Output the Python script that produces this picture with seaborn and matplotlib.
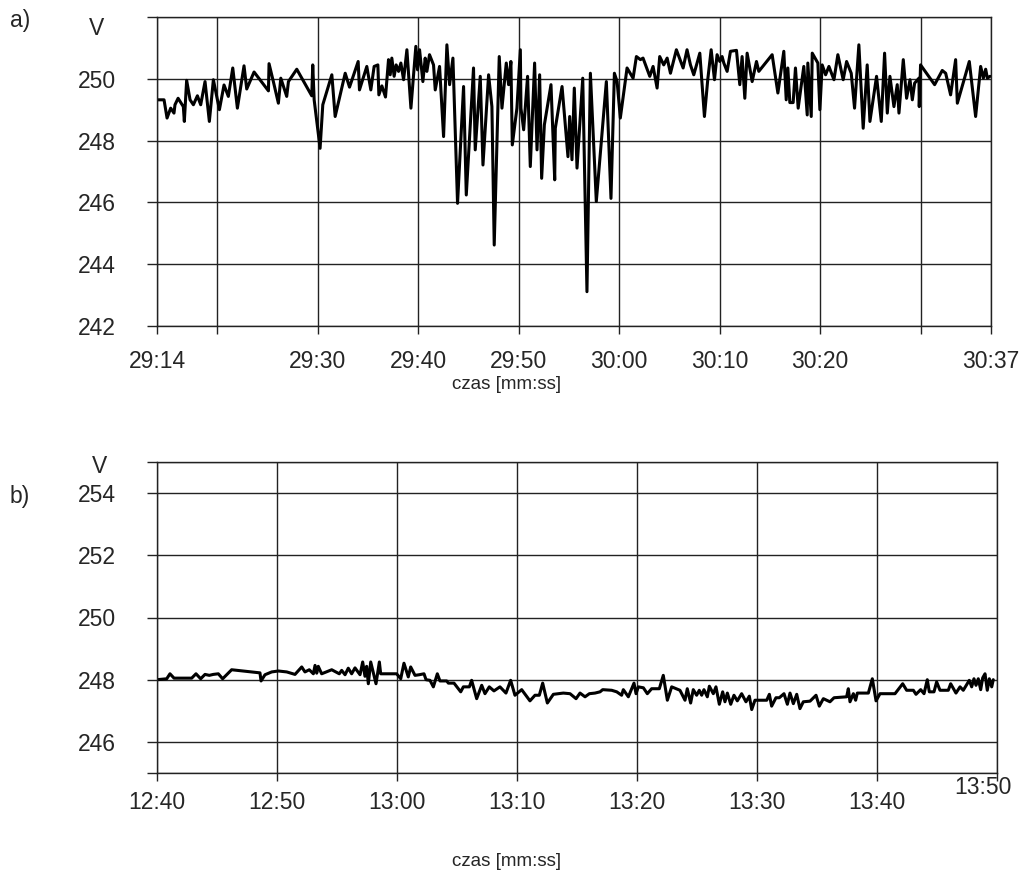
import numpy as np
import pandas as pd
import matplotlib
matplotlib.use("Agg")
import matplotlib.pyplot as plt
import matplotlib.transforms as mtransforms
import seaborn as sns

# ---------------- data ----------------
# a) seconds after 29:14, voltage [V]
a_sec = [0.0, 0.7, 1.0, 1.36, 1.69, 1.79, 2.1, 2.62, 2.72, 2.95, 3.29, 3.62, 4.02, 4.35,
         4.78, 5.21, 5.61, 6.21, 6.67, 7.1, 7.54, 8.0, 8.66, 8.93, 9.66, 11.09, 11.15,
         11.58, 12.08, 12.32, 12.91, 13.08, 13.91, 15.4, 15.5, 15.64, 16.23, 16.5, 17.4, 17.73,
         18.73, 19.16, 20.02, 20.15, 20.88, 21.28, 21.61, 21.98, 22.08, 22.38, 22.74,
         23.04, 23.21, 23.37, 23.6, 23.8, 24.04, 24.27, 24.54, 24.87, 25.27, 25.76, 25.93,
         26.13,
         26.46, 26.69, 26.86, 27.12, 27.52, 27.69, 28.12, 28.52, 28.85, 29.12, 29.45,
         29.91, 30.51, 30.78, 31.5, 31.67, 32.17, 32.44, 33.0, 33.33, 33.56, 34.06, 34.33,
         34.76, 34.99, 35.22, 35.36, 35.82, 36.16, 36.22, 36.49, 36.88, 37.15, 37.58,
         37.82, 38.08, 38.28, 38.55, 39.21, 39.58, 39.64, 40.31, 40.9, 41.07, 41.3, 41.53,
         41.8, 42.37, 42.79, 43.13, 43.72, 44.72, 45.18, 45.52, 45.79, 46.11, 46.78,
         47.38, 47.71, 48.11, 48.37, 49.04, 49.37, 49.77, 50.03, 50.43, 50.77, 51.1,
         51.69, 52.36, 52.75,
         53.09, 53.42, 54.02, 54.48, 54.81, 55.15, 55.48, 55.74, 56.01, 56.24, 56.41,
         56.74, 57.07, 57.67, 58.0, 58.23, 58.5, 58.73, 59.23, 59.66, 59.89, 61.22, 61.79,
         62.38, 62.62, 62.78, 62.98, 63.31, 63.54, 63.81, 64.37, 64.71, 64.77, 65.11,
         65.21, 65.77, 65.97, 66.2, 66.54, 66.87, 67.37, 67.76, 68.29, 68.63, 69.09,
         69.42, 69.85, 70.28, 70.68, 70.95, 71.61, 72.08, 72.41, 72.68, 72.94, 73.34,
         73.67, 73.84, 74.27, 74.6, 74.94, 75.17, 75.4, 75.83, 75.86, 75.99, 77.39, 78.15,
         78.49, 78.98, 79.48, 79.65, 80.84, 81.47, 81.97, 82.24, 82.47, 82.64, 82.9]
a_volt = [249.32, 249.32, 248.73, 249.05, 248.89, 249.16, 249.37, 249.1, 248.62, 249.95,
          249.32, 249.16, 249.45, 249.16, 249.91, 248.62, 249.97, 249.0, 249.8, 249.43,
          250.35, 249.05, 250.42, 249.67, 250.22, 249.61, 250.49, 249.91, 249.21, 250.02,
          249.43, 249.91, 250.31, 249.45, 250.45, 249.32, 247.75, 249.16, 250.13, 248.78, 250.18,
          249.73, 250.56, 249.64, 250.4, 249.64, 250.4, 250.45, 249.48, 249.77, 249.41,
          250.62, 250.13, 250.67, 250.08, 250.45, 250.24, 250.51, 249.97, 250.94, 249.05,
          251.05, 250.29, 250.94,
          249.91, 250.67, 250.24, 250.78, 250.45, 249.64, 250.4, 248.13, 251.1, 249.81,
          250.67, 245.97, 249.75, 246.24, 250.35, 247.7, 250.08, 247.21, 250.13, 249.1,
          244.62, 250.72, 249.05, 250.51, 249.81, 250.56, 247.86, 249.05, 250.94, 249.05,
          248.35, 250.08, 247.16, 250.51, 247.7, 250.13, 246.78, 248.51, 249.81, 246.73,
          248.4, 249.75, 247.48, 248.78, 247.38, 249.7, 247.11, 250.02, 243.11, 250.18,
          246.03, 249.91, 246.13, 250.18, 249.91, 248.73, 250.35, 250.02, 250.72, 250.62,
          250.67, 250.08, 250.4, 249.7, 250.72, 250.45, 250.67, 250.18, 250.94, 250.35,
          250.94,
          250.45, 250.13, 250.83, 248.78, 249.97, 250.94, 249.97, 250.78, 250.56, 250.72,
          250.51, 250.24, 250.89, 250.92, 249.81, 250.72, 249.37, 250.83, 249.91, 250.56,
          250.24, 250.78, 249.54, 250.89, 249.32, 250.35, 249.23, 249.23, 250.35, 249.05,
          250.4, 248.83, 250.51, 248.78, 250.83, 250.51, 249.0, 250.45, 250.13, 250.4,
          249.97, 250.78, 249.97, 250.56, 250.18, 249.05, 251.1, 248.4, 250.45, 248.62,
          250.08, 248.62, 250.83, 248.89, 250.08, 249.1, 249.81, 248.89, 250.62, 249.37,
          249.97, 249.32, 249.86, 250.02, 249.1, 250.45, 249.81, 250.27, 250.18, 249.48,
          250.62, 249.21, 250.56, 248.78, 250.4, 250.02, 250.31, 250.02, 250.08]

# b) seconds after 12:40, voltage [V]
b_sec = [0.0, 0.81, 1.08, 1.42, 2.89, 3.25, 3.64, 4.0, 4.36, 4.69, 5.11, 5.47, 6.22, 8.58,
         8.67, 9.0, 9.56, 10.11, 10.81, 11.5, 12.06, 12.33, 12.69, 13.03, 13.17, 13.31,
         13.44, 13.72, 14.56, 15.19, 15.39, 15.67, 15.94, 16.22, 16.5, 16.92, 17.14, 17.33,
         17.47, 17.61, 17.81, 18.08, 18.25, 18.53, 18.64, 19.97, 20.31, 20.58, 20.94,
         21.14, 21.5, 21.86, 22.25, 22.42,
         22.75, 23.03, 23.36, 23.58, 24.14, 24.28, 24.75, 25.31, 25.53, 26.03, 26.22,
         26.64, 27.06, 27.33, 27.69, 28.08, 28.58, 29.08, 29.47, 29.83, 30.39, 31.08,
         31.5, 31.86, 32.14, 32.53, 33.03, 33.86, 34.42, 34.92, 35.25, 35.67, 36.03, 36.5,
         36.92, 37.14, 37.89, 38.31, 38.72, 38.86, 39.28, 39.75, 39.92, 40.11, 40.53,
         40.86, 41.22, 41.86, 42.19, 42.53, 42.89, 43.58, 44.0, 44.19, 44.47, 44.69,
         44.97, 45.19, 45.39, 45.58, 45.86, 46.03,
         46.36, 46.58, 46.86, 47.14, 47.33, 47.53, 47.81, 48.08, 48.36, 48.72, 49.08,
         49.36, 49.56, 49.83, 50.81, 51.03, 51.22, 51.58, 51.86, 52.25, 52.53, 52.75,
         53.03, 53.31, 53.58, 53.86, 54.42, 54.92, 55.19, 55.53, 56.08, 56.42, 57.47,
         57.61, 57.75, 58.03, 58.22, 58.36, 59.28, 59.61, 59.92, 60.25, 61.5, 62.14,
         62.47, 63.03, 63.25, 63.64, 63.92, 64.19, 64.36, 64.75, 64.97, 65.25, 65.94,
         66.14, 66.58, 66.92, 67.19, 67.69, 67.89, 68.08, 68.25, 68.44, 68.64, 68.81,
         69.0, 69.19, 69.36, 69.56, 69.69]
b_volt = [248.0, 248.03, 248.19, 248.05, 248.05, 248.19, 248.03, 248.17, 248.14, 248.17,
          248.19, 248.03, 248.32, 248.22, 247.96, 248.16, 248.25, 248.28, 248.25, 248.17,
          248.41, 248.25, 248.32, 248.19, 248.46, 248.21, 248.43, 248.19, 248.32, 248.19,
          248.3, 248.16, 248.37, 248.19, 248.38, 248.16, 248.57, 248.11, 248.43, 247.87,
          248.57, 248.14, 247.87, 248.57, 248.19, 248.19, 248.03, 248.53, 248.09, 248.41,
          248.14, 248.16, 248.19, 248.0,
          247.98, 247.77, 248.19, 247.96, 247.96, 247.89, 247.89, 247.61, 247.77, 247.77,
          247.98, 247.39, 247.82, 247.55, 247.77, 247.64, 247.77, 247.57, 247.98, 247.5,
          247.68, 247.32, 247.5, 247.5, 247.89, 247.25, 247.53, 247.57, 247.55, 247.39,
          247.57, 247.45, 247.55, 247.57, 247.61, 247.68, 247.66, 247.61, 247.5, 247.68,
          247.45, 247.89, 247.55, 247.77, 247.74, 247.55, 247.71, 247.71, 248.14, 247.34,
          247.77, 247.66, 247.34, 247.71, 247.25, 247.68, 247.5, 247.66, 247.5, 247.68,
          247.45, 247.79,
          247.55, 247.77, 247.21, 247.61, 247.29, 247.57, 247.21, 247.5, 247.32, 247.55,
          247.29, 247.47, 247.04, 247.34, 247.34, 247.53, 247.15, 247.42, 247.42, 247.55,
          247.21, 247.57, 247.23, 247.53, 247.07, 247.29, 247.31, 247.5, 247.15, 247.39,
          247.29, 247.42, 247.45, 247.71, 247.29, 247.55, 247.34, 247.57, 247.57, 248.03,
          247.32, 247.55, 247.55, 247.87, 247.66, 247.66, 247.53, 247.68, 247.55, 248.0,
          247.61, 247.61, 247.93, 247.66, 247.66, 247.87, 247.57, 247.77, 247.66, 247.98,
          247.77, 248.03, 247.82, 248.03, 247.68, 248.06, 248.19, 247.66, 248.03, 247.77,
          248.0]

a_xticks = [0, 6, 16, 26, 36, 46, 56, 66, 76, 83]
a_xlabels = ["29:14", "", "29:30", "29:40", "29:50", "30:00", "30:10", "30:20", "", "30:37"]
a_yticks = [242, 244, 246, 248, 250, 252]
a_ylabels = ["242", "244", "246", "248", "250", ""]

b_xticks = [0, 10, 20, 30, 40, 50, 60, 70]
b_xlabels = ["12:40", "12:50", "13:00", "13:10", "13:20", "13:30", "13:40", "13:50"]
b_yticks = [245, 246, 248, 250, 252, 254, 255]
b_ylabels = ["", "246", "248", "250", "252", "254", ""]

xlabel_text = "czas [mm:ss]"
unit_text = "V"

# ---------------- style ----------------
sns.set_style("white")
plt.rcParams["font.family"] = ["Liberation Sans", "DejaVu Sans"]
FS = 16.5
FSL = 13.5

fig = plt.figure(figsize=(10.21, 8.74), dpi=100)
W, H = 1021, 874
ax1 = fig.add_axes([157 / W, 1 - 326 / H, (991 - 157) / W, 309 / H])
ax2 = fig.add_axes([157 / W, 1 - 773 / H, (997 - 157) / W, 311 / H])

dfa = pd.DataFrame({"t": a_sec, "v": a_volt})
dfb = pd.DataFrame({"t": b_sec, "v": b_volt})
sns.lineplot(data=dfa, x="t", y="v", ax=ax1, color="black", lw=2.2,
             estimator=None, sort=False, legend=False)
sns.lineplot(data=dfb, x="t", y="v", ax=ax2, color="black", lw=2.2,
             estimator=None, sort=False, legend=False)


def style(ax, xt, xl, yt, yl, xlim, ylim, xpad):
    ax.set_xlim(*xlim)
    ax.set_ylim(*ylim)
    ax.set_xticks(xt)
    ax.set_xticklabels(xl)
    ax.set_yticks(yt)
    ax.set_yticklabels(yl)
    ax.grid(True, color="#222222", lw=1.0)
    ax.set_axisbelow(True)
    for s in ax.spines.values():
        s.set_visible(True)
        s.set_color("#222222")
        s.set_linewidth(1.0)
    ax.tick_params(axis="y", direction="out", length=7, width=1.0, color="#222222",
                   labelsize=FS, pad=36, left=True)
    for lbl in ax.get_yticklabels():
        lbl.set_horizontalalignment("center")
    ax.tick_params(axis="x", direction="out", length=6, width=1.0, color="#222222",
                   labelsize=FS, pad=xpad, bottom=True)
    ax.set_ylabel("")


style(ax1, a_xticks, a_xlabels, a_yticks, a_ylabels, (0, 83), (242, 252), 11)
style(ax2, b_xticks, b_xlabels, b_yticks, b_ylabels, (0, 70), (245, 255), 7)

ax1.set_xlabel(xlabel_text, fontsize=FSL)
ax2.set_xlabel(xlabel_text, fontsize=FSL)
ax1.xaxis.set_label_coords((507 - 157) / 834, (326 - 376) / 309)
ax2.xaxis.set_label_coords((507 - 157) / 840, (773 - 853) / 311)

# raised, shifted last label on b)
lbls = ax2.get_xticklabels()
lbls[-1].set_transform(lbls[-1].get_transform() +
                       mtransforms.ScaledTranslation(-0.14, 0.15, fig.dpi_scale_trans))

ax1.text(-0.073, 0.964, unit_text, transform=ax1.transAxes, ha="center", va="center",
         fontsize=FS)
ax2.text(-0.068, 0.984, unit_text, transform=ax2.transAxes, ha="center", va="center",
         fontsize=FS)

fig.text(20 / W, 1 - 20 / H, "a)", ha="center", va="center", fontsize=FS)
fig.text(20 / W, 1 - 497 / H, "b)", ha="center", va="center", fontsize=FS)

fig.savefig("out.png", dpi=100)
